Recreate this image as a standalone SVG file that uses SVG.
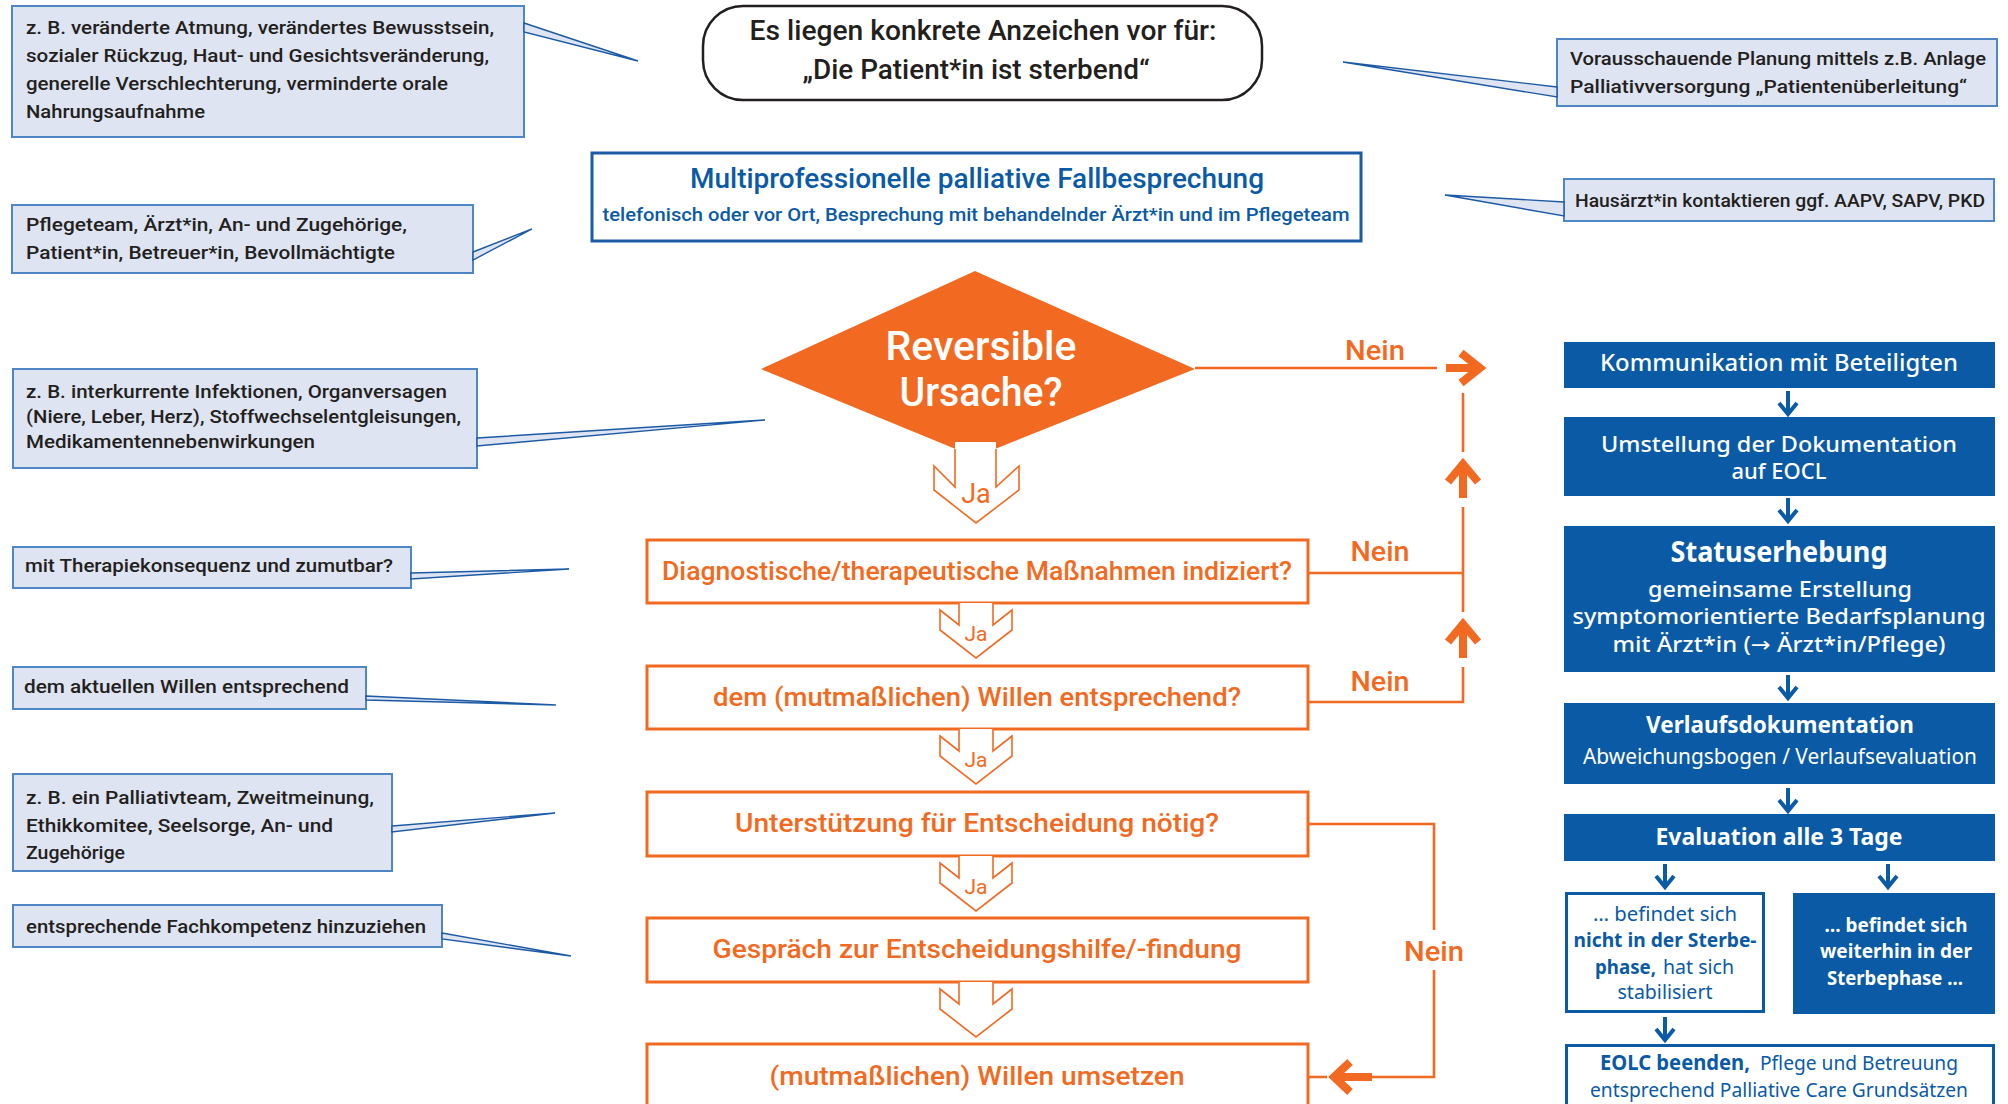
<svg xmlns="http://www.w3.org/2000/svg" width="2008" height="1104" viewBox="0 0 2008 1104">
<style>
.co{fill:#dfe4f2;stroke:#4f86c6;stroke-width:2}
.ptr{fill:#dfe4f2;stroke:#1c5aa5;stroke-width:1.4;stroke-linejoin:miter}
.ct{font-family:Roboto,"Liberation Sans",Arial,sans-serif;font-weight:500;font-size:19px;fill:#231f20}
.cf{font-family:Roboto,"Liberation Sans",Arial,sans-serif;font-weight:500}
.ob{fill:#fff;stroke:#f26a21;stroke-width:3}
.ot{font-family:Roboto,"Liberation Sans",Arial,sans-serif;font-weight:500;font-size:26px;fill:#f26a21;text-anchor:middle}
.ja{fill:#fff;stroke:#f26a21;stroke-width:1.6;stroke-linejoin:miter}
.jt{font-family:Roboto,"Liberation Sans",Arial,sans-serif;font-size:21px;fill:#f26a21;text-anchor:middle}
.nt{font-family:Roboto,"Liberation Sans",Arial,sans-serif;font-weight:500;font-size:28px;fill:#f26a21;text-anchor:middle}
.ol{fill:none;stroke:#f26a21;stroke-width:2.6}
.oa{fill:none;stroke:#f26a21;stroke-width:8;stroke-linejoin:miter}
.bb{fill:#0a5aa6}
.bw{fill:#fff;stroke:#0a5aa6;stroke-width:3}
.bt{font-family:"Noto Sans","Open Sans",sans-serif;fill:#fff;text-anchor:middle}
.bl{font-family:"Noto Sans","Open Sans",sans-serif;fill:#0a5aa6}
.ba{fill:none;stroke:#0a5aa6;stroke-width:4}
</style>

<!-- Left callouts -->
<g id="callout1">
<rect class="co" x="12" y="6" width="512" height="131"/>
<polygon class="ptr" points="524,23 638,61 524,32"/>
<text class="ct" x="26" y="34" textLength="468" lengthAdjust="spacingAndGlyphs">z. B. veränderte Atmung, verändertes Bewusstsein,</text>
<text class="ct" x="26" y="62" textLength="463" lengthAdjust="spacingAndGlyphs">sozialer Rückzug, Haut- und Gesichtsveränderung,</text>
<text class="ct" x="26" y="90" textLength="422" lengthAdjust="spacingAndGlyphs">generelle Verschlechterung, verminderte orale</text>
<text class="ct" x="26" y="118" textLength="179" lengthAdjust="spacingAndGlyphs">Nahrungsaufnahme</text>
</g>
<g id="callout2">
<rect class="co" x="12" y="205" width="461" height="68"/>
<polygon class="ptr" points="473,252 532,229 473,260"/>
<text class="ct" x="26" y="231" textLength="381" lengthAdjust="spacingAndGlyphs">Pflegeteam, Ärzt*in, An- und Zugehörige,</text>
<text class="ct" x="26" y="259" textLength="369" lengthAdjust="spacingAndGlyphs">Patient*in, Betreuer*in, Bevollmächtigte</text>
</g>
<g id="callout3">
<rect class="co" x="13" y="369" width="464" height="99"/>
<polygon class="ptr" points="477,438 765,420 477,446"/>
<text class="ct" x="26" y="398" textLength="421" lengthAdjust="spacingAndGlyphs">z. B. interkurrente Infektionen, Organversagen</text>
<text class="ct" x="26" y="423" textLength="435" lengthAdjust="spacingAndGlyphs">(Niere, Leber, Herz), Stoffwechselentgleisungen,</text>
<text class="ct" x="26" y="448" textLength="289" lengthAdjust="spacingAndGlyphs">Medikamentennebenwirkungen</text>
</g>
<g id="callout4">
<rect class="co" x="13" y="547" width="398" height="41"/>
<polygon class="ptr" points="411,573 569,569 411,579"/>
<text class="ct" x="25" y="572" textLength="368" lengthAdjust="spacingAndGlyphs">mit Therapiekonsequenz und zumutbar?</text>
</g>
<g id="callout5">
<rect class="co" x="13" y="667" width="353" height="42"/>
<polygon class="ptr" points="366,696 556,705 366,700"/>
<text class="ct" x="24" y="693" textLength="325" lengthAdjust="spacingAndGlyphs">dem aktuellen Willen entsprechend</text>
</g>
<g id="callout6">
<rect class="co" x="13" y="774" width="379" height="97"/>
<polygon class="ptr" points="392,826 555,813 392,832"/>
<text class="ct" x="26" y="804" textLength="348" lengthAdjust="spacingAndGlyphs">z. B. ein Palliativteam, Zweitmeinung,</text>
<text class="ct" x="26" y="832" textLength="307" lengthAdjust="spacingAndGlyphs">Ethikkomitee, Seelsorge, An- und</text>
<text class="ct" x="26" y="859" textLength="99" lengthAdjust="spacingAndGlyphs">Zugehörige</text>
</g>
<g id="callout7">
<rect class="co" x="13" y="905" width="429" height="42"/>
<polygon class="ptr" points="442,933 571,956 442,939"/>
<text class="ct" x="26" y="933" textLength="400" lengthAdjust="spacingAndGlyphs">entsprechende Fachkompetenz hinzuziehen</text>
</g>

<!-- Right callouts -->
<g id="callout-right1">
<rect class="co" x="1557" y="39" width="440" height="67"/>
<polygon class="ptr" points="1557,87 1343,62 1557,97"/>
<text class="ct" x="1570" y="65" textLength="416" lengthAdjust="spacingAndGlyphs">Vorausschauende Planung mittels z.B. Anlage</text>
<text class="ct" x="1570" y="93" textLength="397" lengthAdjust="spacingAndGlyphs">Palliativversorgung „Patientenüberleitung“</text>
</g>
<g id="callout-right2">
<rect class="co" x="1564" y="179" width="430" height="42"/>
<polygon class="ptr" points="1564,202 1445,195 1564,216"/>
<text class="ct" x="1575" y="207" textLength="410" lengthAdjust="spacingAndGlyphs">Hausärzt*in kontaktieren ggf. AAPV, SAPV, PKD</text>
</g>

<!-- Start node -->
<g id="start">
<rect x="703" y="6" width="559" height="94" rx="40" ry="40" fill="#fff" stroke="#231f20" stroke-width="2.5"/>
<text class="cf" x="983" y="40" font-size="27" fill="#231f20" text-anchor="middle" textLength="467" lengthAdjust="spacingAndGlyphs">Es liegen konkrete Anzeichen vor für:</text>
<text class="cf" x="976" y="79" font-size="27" fill="#231f20" text-anchor="middle" textLength="347" lengthAdjust="spacingAndGlyphs">„Die Patient*in ist sterbend“</text>
</g>

<!-- Fallbesprechung -->
<g id="fallbesprechung">
<rect x="592" y="153" width="769" height="88" fill="#fff" stroke="#1c5aa5" stroke-width="3"/>
<text class="cf" x="977" y="188" font-size="27" fill="#0a5aa6" text-anchor="middle" textLength="574" lengthAdjust="spacingAndGlyphs">Multiprofessionelle palliative Fallbesprechung</text>
<text class="cf" x="976" y="221" font-size="19" fill="#0a5aa6" text-anchor="middle" textLength="747" lengthAdjust="spacingAndGlyphs">telefonisch oder vor Ort, Besprechung mit behandelnder Ärzt*in und im Pflegeteam</text>
</g>

<!-- Decision diamond -->
<g id="reversible">
<polygon points="975,271 1195,369 975,457 761,369" fill="#f26a21"/>
<text class="cf" x="981" y="360" font-size="40" fill="#fff" text-anchor="middle" textLength="191" lengthAdjust="spacingAndGlyphs">Reversible</text>
<text class="cf" x="981" y="406" font-size="40" fill="#fff" text-anchor="middle" textLength="163" lengthAdjust="spacingAndGlyphs">Ursache?</text>
</g>

<!-- Orange process boxes -->
<g id="diagnostik">
<rect class="ob" x="647" y="540" width="661" height="63"/>
<text class="ot" x="977" y="580" textLength="630" lengthAdjust="spacingAndGlyphs">Diagnostische/therapeutische Maßnahmen indiziert?</text>
</g>
<g id="wille">
<rect class="ob" x="647" y="666" width="661" height="63"/>
<text class="ot" x="977" y="706" textLength="528" lengthAdjust="spacingAndGlyphs">dem (mutmaßlichen) Willen entsprechend?</text>
</g>
<g id="unterstuetzung">
<rect class="ob" x="647" y="792" width="661" height="64"/>
<text class="ot" x="977" y="832" textLength="484" lengthAdjust="spacingAndGlyphs">Unterstützung für Entscheidung nötig?</text>
</g>
<g id="gespraech">
<rect class="ob" x="647" y="918" width="661" height="64"/>
<text class="ot" x="977" y="958" textLength="529" lengthAdjust="spacingAndGlyphs">Gespräch zur Entscheidungshilfe/-findung</text>
</g>
<g id="umsetzen">
<rect class="ob" x="647" y="1044" width="661" height="70"/>
<text class="ot" x="977" y="1085" textLength="415" lengthAdjust="spacingAndGlyphs">(mutmaßlichen) Willen umsetzen</text>
</g>

<!-- Right column -->
<g id="kommunikation">
<rect class="bb" x="1564" y="342" width="431" height="46"/>
<text class="bt" x="1779" y="371" font-size="23" font-weight="500" textLength="358" lengthAdjust="spacingAndGlyphs">Kommunikation mit Beteiligten</text>
</g>
<g id="umstellung">
<rect class="bb" x="1564" y="417" width="431" height="79"/>
<text class="bt" x="1779" y="452" font-size="21" font-weight="500" textLength="356" lengthAdjust="spacingAndGlyphs">Umstellung der Dokumentation</text>
<text class="bt" x="1779" y="479" font-size="21" font-weight="500" textLength="95" lengthAdjust="spacingAndGlyphs">auf EOCL</text>
</g>
<g id="statuserhebung">
<rect class="bb" x="1564" y="526" width="431" height="146"/>
<text class="bt" x="1779" y="562" font-size="28" font-weight="bold" textLength="217" lengthAdjust="spacingAndGlyphs">Statuserhebung</text>
<text class="bt" x="1780" y="597" font-size="21" font-weight="500" textLength="264" lengthAdjust="spacingAndGlyphs">gemeinsame Erstellung</text>
<text class="bt" x="1779" y="624" font-size="21" font-weight="500" textLength="413" lengthAdjust="spacingAndGlyphs">symptomorientierte Bedarfsplanung</text>
<text class="bt" x="1779" y="652" font-size="21" font-weight="500" textLength="333" lengthAdjust="spacingAndGlyphs">mit Ärzt*in (<tspan font-family="'DejaVu Sans',sans-serif">→</tspan> Ärzt*in/Pflege)</text>
</g>
<g id="verlauf">
<rect class="bb" x="1564" y="703" width="431" height="81"/>
<text class="bt" x="1780" y="733" font-size="24" font-weight="bold" textLength="268" lengthAdjust="spacingAndGlyphs">Verlaufsdokumentation</text>
<text class="bt" x="1780" y="764" font-size="21" textLength="394" lengthAdjust="spacingAndGlyphs">Abweichungsbogen / Verlaufsevaluation</text>
</g>
<g id="evaluation">
<rect class="bb" x="1564" y="814" width="431" height="47"/>
<text class="bt" x="1779" y="845" font-size="24" font-weight="bold" textLength="247" lengthAdjust="spacingAndGlyphs">Evaluation alle 3 Tage</text>
</g>
<g id="stabilisiert">
<rect class="bw" x="1566.5" y="893.5" width="197" height="118"/>
<text class="bl" x="1665" y="921" font-size="20" text-anchor="middle" textLength="144" lengthAdjust="spacingAndGlyphs">… befindet sich</text>
<text class="bl" x="1665" y="947" font-size="20" font-weight="bold" text-anchor="middle" textLength="183" lengthAdjust="spacingAndGlyphs">nicht in der Sterbe-</text>
<text class="bl" x="1595" y="974" font-size="20" font-weight="bold" textLength="61" lengthAdjust="spacingAndGlyphs">phase,</text>
<text class="bl" x="1663" y="974" font-size="20" textLength="71" lengthAdjust="spacingAndGlyphs">hat sich</text>
<text class="bl" x="1665" y="999" font-size="20" text-anchor="middle" textLength="95" lengthAdjust="spacingAndGlyphs">stabilisiert</text>
</g>
<g id="sterbephase">
<rect class="bb" x="1793" y="893" width="202" height="121"/>
<text class="bt" x="1896" y="932" font-size="20" font-weight="bold" textLength="143" lengthAdjust="spacingAndGlyphs">… befindet sich</text>
<text class="bt" x="1896" y="958" font-size="20" font-weight="bold" textLength="152" lengthAdjust="spacingAndGlyphs">weiterhin in der</text>
<text class="bt" x="1895" y="985" font-size="20" font-weight="bold" textLength="136" lengthAdjust="spacingAndGlyphs">Sterbephase …</text>
</g>
<g id="eolc">
<rect class="bw" x="1566.5" y="1045.5" width="427" height="80"/>
<text class="bl" x="1600" y="1070" font-size="22" font-weight="bold" textLength="150" lengthAdjust="spacingAndGlyphs">EOLC beenden,</text>
<text class="bl" x="1760" y="1070" font-size="19" textLength="198" lengthAdjust="spacingAndGlyphs">Pflege und Betreuung</text>
<text class="bl" x="1779" y="1097" font-size="19" text-anchor="middle" textLength="378" lengthAdjust="spacingAndGlyphs">entsprechend Palliative Care Grundsätzen</text>
</g>

<!-- Connectors -->
<g id="connectors">
<!-- Ja arrow out of diamond -->
<rect x="955" y="442" width="41" height="46" fill="#fff"/>
<path class="ja" d="M955 449 L955 487 L934 466 L934 490 L976 523 L1019 490 L1019 466 L996 487 L996 449"/>
<text class="jt" x="976" y="503" style="font-size:27px">Ja</text>
<!-- Ja chevrons between boxes -->
<path class="ja" d="M959 603 L959 625 L940 610 L940 630 L976 658 L1012 630 L1012 610 L993 625 L993 603"/>
<text class="jt" x="976" y="641">Ja</text>
<path class="ja" d="M959 729 L959 751 L940 736 L940 756 L976 784 L1012 756 L1012 736 L993 751 L993 729"/>
<text class="jt" x="976" y="767">Ja</text>
<path class="ja" d="M959 856 L959 878 L940 863 L940 883 L976 911 L1012 883 L1012 863 L993 878 L993 856"/>
<text class="jt" x="976" y="894">Ja</text>
<path class="ja" d="M959 982 L959 1004 L940 989 L940 1009 L976 1037 L1012 1009 L1012 989 L993 1004 L993 982"/>

<!-- Nein from diamond -->
<line class="ol" x1="1195" y1="368" x2="1437" y2="368"/>
<text class="nt" x="1375" y="360" textLength="60" lengthAdjust="spacingAndGlyphs">Nein</text>
<path class="oa" d="M1446 368 L1480 368 M1461 353 L1480 368 L1461 383"/>
<!-- Right return line -->
<path class="ol" d="M1463 393 L1463 452 M1463 507 L1463 612 M1463 667 L1463 702 L1308 702 M1308 573 L1463 573"/>
<path class="oa" d="M1463 498 L1463 464 M1448 482 L1463 464 L1478 482"/>
<path class="oa" d="M1463 658 L1463 624 M1448 642 L1463 624 L1478 642"/>
<text class="nt" x="1380" y="561" textLength="59" lengthAdjust="spacingAndGlyphs">Nein</text>
<text class="nt" x="1380" y="691" textLength="59" lengthAdjust="spacingAndGlyphs">Nein</text>
<!-- Nein from Unterstützung -->
<path class="ol" d="M1308 824 L1434 824 L1434 930 M1434 970 L1434 1077 L1372 1077 M1308 1077 L1327 1077"/>
<path class="oa" d="M1372 1077 L1337 1077 M1350 1062 L1334 1077 L1350 1092"/>
<text class="nt" x="1434" y="961" textLength="60" lengthAdjust="spacingAndGlyphs">Nein</text>

<!-- Blue arrows -->
<path class="ba" d="M1788 391 L1788 413 M1779 403 L1788 414 L1797 403"/>
<path class="ba" d="M1788 498 L1788 520 M1779 510 L1788 521 L1797 510"/>
<path class="ba" d="M1788 675 L1788 697 M1779 687 L1788 698 L1797 687"/>
<path class="ba" d="M1788 788 L1788 810 M1779 800 L1788 811 L1797 800"/>
<path class="ba" d="M1665 864 L1665 886 M1656 876 L1665 887 L1674 876"/>
<path class="ba" d="M1888 864 L1888 886 M1879 876 L1888 887 L1897 876"/>
<path class="ba" d="M1665 1017 L1665 1039 M1656 1029 L1665 1040 L1674 1029"/>
</g>
</svg>
